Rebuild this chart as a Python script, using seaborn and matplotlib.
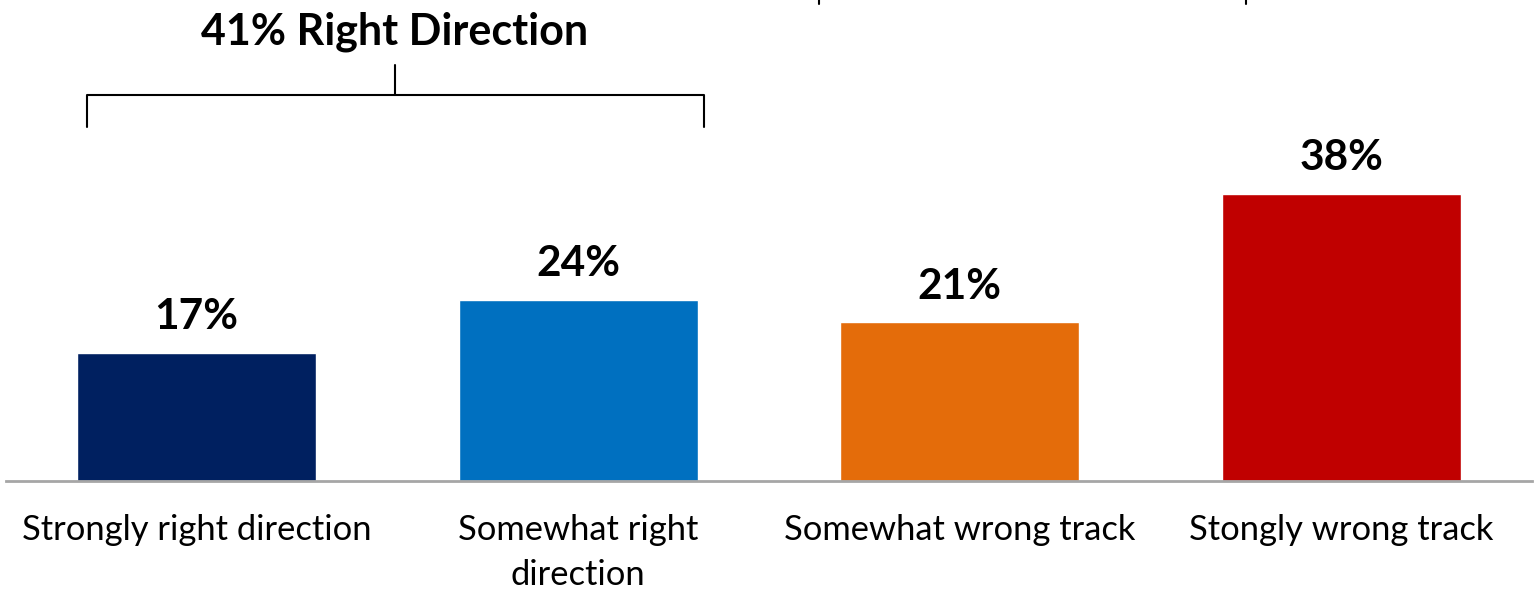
import pandas as pd
import matplotlib.pyplot as plt
import seaborn as sb

categories = ["Strongly right direction", "Somewhat right\ndirection",
              "Somewhat wrong track", "Stongly wrong track"]
values = [17, 24, 21, 38]
colors = ["#002060", "#0070C0", "#E46C0A", "#C00000"]
bracket_title = "41% Right Direction"

sb.set_style("white")
plt.rcParams['font.family'] = ['Lato', 'DejaVu Sans']
plt.rcParams['text.color'] = 'black'
plt.rcParams['xtick.color'] = 'black'

data = pd.DataFrame({"category": categories, "value": values})

fig = plt.figure(figsize=(15.36, 5.98), dpi=100)
ax = fig.add_axes([0.0036, 0.1957, 0.9940, 0.8043])

sb.barplot(data=data, x="category", y="value", hue="category",
           palette=colors, width=0.626, legend=False, saturation=1, ax=ax)

ax.set_xlim(-0.5, 3.5)
ax.set_ylim(0, 63.7)
ax.set_xlabel("")
ax.set_ylabel("")
ax.set_yticks([])
for side in ["top", "left", "right"]:
    ax.spines[side].set_visible(False)
ax.spines["bottom"].set_color("#A6A6A6")
ax.spines["bottom"].set_linewidth(2)
ax.tick_params(axis="x", length=0, pad=24, labelsize=24.8, labelcolor="black")
for lbl in ax.get_xticklabels():
    lbl.set_linespacing(1.5)

# value labels above bars
for i, v in enumerate(values):
    ax.annotate(f"{v}%", (i, v), xytext=(0, 12), textcoords="offset points",
                ha="center", va="bottom", fontsize=30.5, fontweight="bold",
                color="black")

# bracket over the first two bars
left, right = -0.287, 1.329
mid = (left + right) / 2
top_y = max(values[:2]) + 27.1
ax.plot([left, left, right, right], [top_y - 4.2, top_y, top_y, top_y - 4.2],
        color="black", lw=1.5, clip_on=False)
ax.plot([mid, mid], [top_y, top_y + 4.0], color="black", lw=1.5, clip_on=False)
ax.text(mid - 0.003, top_y + 8.4, bracket_title, ha="center", va="center",
        fontsize=31, fontweight="bold", color="black")

# cut-off bracket ends for the wrong track group
for x in [1.630, 2.750]:
    ax.plot([x, x], [63.7, 63.2], color="black", lw=1.5, clip_on=False)

fig.savefig("out.png", dpi=100)
